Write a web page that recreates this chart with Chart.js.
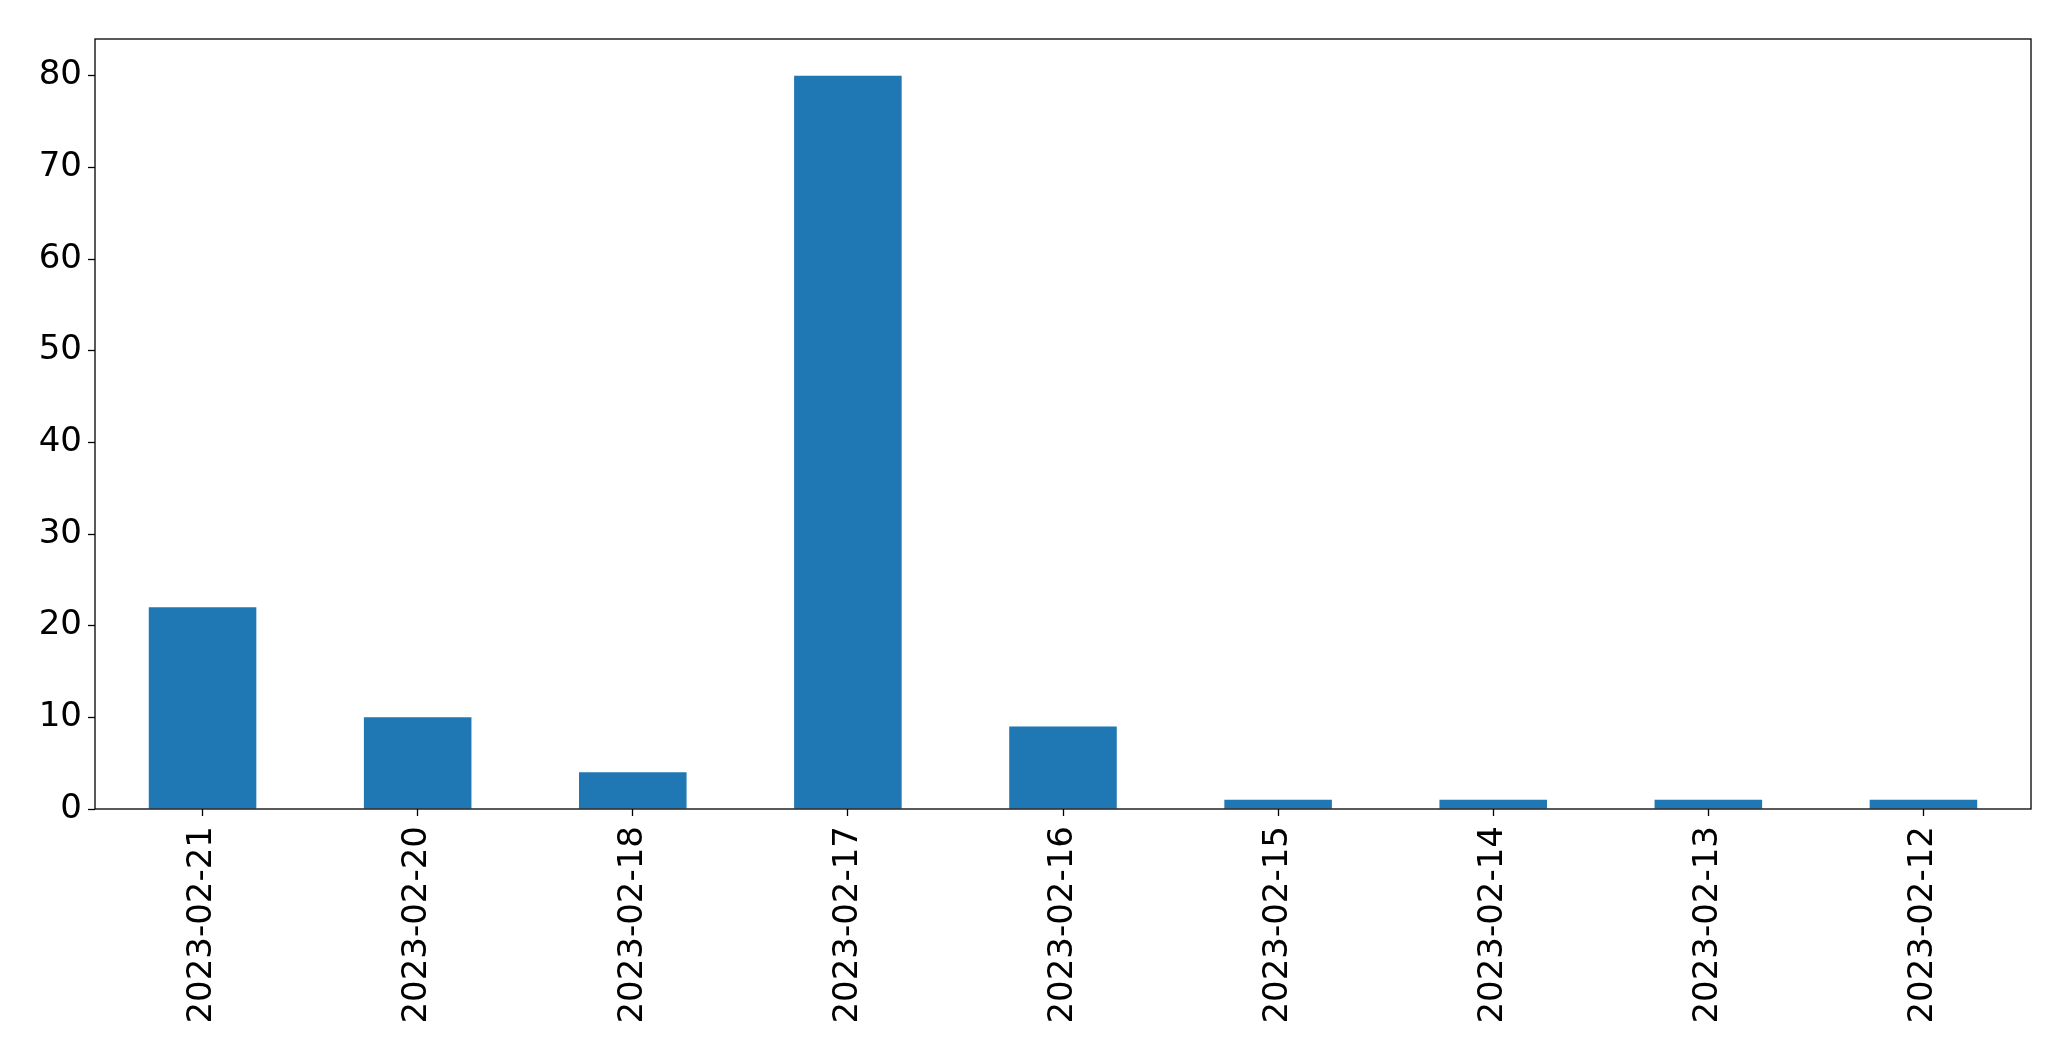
<!DOCTYPE html>
<html>
<head>
  <meta charset="UTF-8">
  <title>Counts by date</title>
  <script src="https://cdn.jsdelivr.net/npm/chart.js"></script>
  <style>
    body {
      margin: 0;
      background: #fff;
    }
    #wrap {
      width: 2071px;
      height: 1061px;
    }
  </style>
</head>
<body>
  <div id="wrap"><canvas id="chart" width="2071" height="1061"></canvas></div>

  <script>
    const dates = ["2023-02-21", "2023-02-20", "2023-02-18", "2023-02-17", "2023-02-16",
                   "2023-02-15", "2023-02-14", "2023-02-13", "2023-02-12"];
    const counts = [22, 10, 4, 80, 9, 1, 1, 1, 1];
    const yTicks = [0, 10, 20, 30, 40, 50, 60, 70, 80];

    const font = { family: "DejaVu Sans", size: 34 };

    // box around the plot area, like a matplotlib frame
    const frame = {
      id: "frame",
      afterDatasetsDraw(chart) {
        const a = chart.chartArea;
        const ctx = chart.ctx;
        ctx.save();
        ctx.strokeStyle = "#000";
        ctx.lineWidth = 1.3;
        ctx.strokeRect(a.left, a.top, a.right - a.left, a.bottom - a.top);
        ctx.restore();
      }
    };

    new Chart(document.getElementById("chart"), {
      type: "bar",
      data: {
        labels: dates,
        datasets: [{
          data: counts,
          backgroundColor: "#1f77b4",
          categoryPercentage: 1.0,
          barPercentage: 0.5
        }]
      },
      options: {
        responsive: false,
        animation: false,
        layout: { padding: { top: 39, right: 40, left: 0, bottom: 0 } },
        plugins: {
          legend: { display: false },
          tooltip: { enabled: false }
        },
        scales: {
          x: {
            grid: {
              display: true,
              drawOnChartArea: false,
              offset: false,
              tickLength: 7,
              tickColor: "#000",
              tickWidth: 1.3
            },
            border: { display: false },
            ticks: {
              color: "#000",
              font: font,
              minRotation: 90,
              maxRotation: 90,
              padding: 10,
              autoSkip: false
            },
            afterFit(scale) { scale.height = 252; }
          },
          y: {
            min: 0,
            max: 84,
            afterBuildTicks(scale) {
              scale.ticks = yTicks.map(v => ({ value: v }));
            },
            grid: {
              display: true,
              drawOnChartArea: false,
              tickLength: 7,
              tickColor: "#000",
              tickWidth: 1.3
            },
            border: { display: false },
            ticks: {
              color: "#000",
              font: font,
              padding: 6
            },
            afterFit(scale) { scale.width = 95; }
          }
        }
      },
      plugins: [frame]
    });
  </script>
</body>
</html>
